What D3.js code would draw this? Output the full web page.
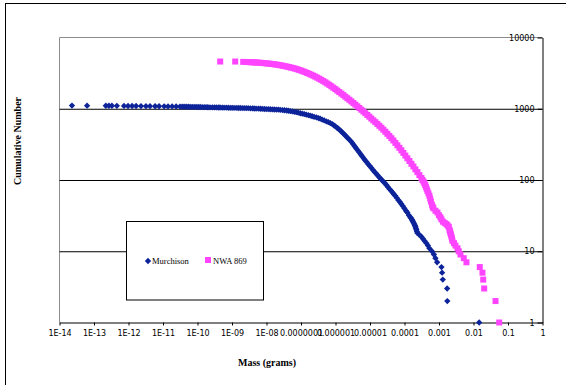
<!DOCTYPE html>
<html>
<head>
<meta charset="utf-8">
<script src="https://cdn.jsdelivr.net/npm/d3@7"></script>
<style>
  body { margin: 0; background: #fff; }
  svg { display: block; }
</style>
</head>
<body>
<div id="chart"></div>
<script>
// Murchison: [mass (g), cumulative number]
const murchisonPoints = [
  [2.3e-14, 1107], [6.3e-14, 1105], [2.2e-13, 1103], [2.7e-13, 1102], [3.3e-13, 1101],
  [4.6e-13, 1098], [7.4e-13, 1095], [9.7e-13, 1094], [1.27e-12, 1093], [1.66e-12, 1092],
  [2.3e-12, 1089], [3.2e-12, 1088], [4.2e-12, 1086], [5.9e-12, 1085], [7.7e-12, 1083],
  [1.08e-11, 1081], [1.4e-11, 1079], [1.84e-11, 1077], [2.4e-11, 1075],
  [3.1e-11, 1072], [3.6e-11, 1070], [4.1e-11, 1069], [4.7e-11, 1067], [5.4e-11, 1066],
  [6.1e-11, 1064], [7.0e-11, 1063], [8.0e-11, 1061], [9.1e-11, 1060], [1.04e-10, 1058],
  [1.19e-10, 1057], [1.36e-10, 1055], [1.56e-10, 1053], [1.77e-10, 1051], [2.0e-10, 1050],
  [2.3e-10, 1048], [2.7e-10, 1046], [3.1e-10, 1044], [3.5e-10, 1043], [4.0e-10, 1041],
  [4.5e-10, 1040], [5.2e-10, 1038], [5.9e-10, 1037], [6.8e-10, 1035], [7.8e-10, 1033],
  [8.9e-10, 1031], [1.01e-9, 1030], [1.15e-9, 1028], [1.32e-9, 1027], [1.51e-9, 1025],
  [1.73e-9, 1024], [1.98e-9, 1022], [2.26e-9, 1021], [2.58e-9, 1019], [2.95e-9, 1018],
  [3.4e-9, 1015], [3.9e-9, 1012], [4.4e-9, 1008], [5.0e-9, 1005], [5.8e-9, 1002],
  [6.6e-9, 999], [7.5e-9, 996], [8.6e-9, 993], [9.8e-9, 990], [1.12e-8, 987],
  [1.28e-8, 984], [1.47e-8, 980], [1.68e-8, 977], [1.92e-8, 974], [2.2e-8, 970],
  [2.5e-8, 965], [2.9e-8, 959], [3.3e-8, 953], [3.8e-8, 946], [4.3e-8, 938],
  [4.9e-8, 928], [5.6e-8, 917], [6.4e-8, 906], [7.3e-8, 895], [8.3e-8, 880],
  [9.5e-8, 865], [1.09e-7, 853], [1.24e-7, 841], [1.42e-7, 827], [1.63e-7, 813],
  [1.85e-7, 799], [2.1e-7, 785], [2.4e-7, 770], [2.8e-7, 755], [3.2e-7, 740],
  [3.6e-7, 725], [4.1e-7, 705], [4.7e-7, 685], [5.4e-7, 666], [6.2e-7, 648],
  [7.1e-7, 628], [8.1e-7, 608], [9.0e-7, 586], [9.9e-7, 565], [1.10e-6, 544],
  [1.21e-6, 524], [1.34e-6, 501], [1.48e-6, 479], [1.63e-6, 457], [1.80e-6, 437],
  [1.99e-6, 415], [2.2e-6, 394], [2.44e-6, 374], [2.7e-6, 356], [3.0e-6, 335],
  [3.3e-6, 315], [3.63e-6, 295], [4.0e-6, 277], [4.43e-6, 260], [4.9e-6, 244],
  [5.4e-6, 228], [6.0e-6, 214], [6.6e-6, 200], [7.3e-6, 188], [8.1e-6, 177],
  [8.95e-6, 166], [9.9e-6, 157], [1.09e-5, 148], [1.21e-5, 139], [1.34e-5, 131],
  [1.48e-5, 124], [1.63e-5, 118], [1.8e-5, 111], [2.0e-5, 105], [2.2e-5, 100],
  [2.44e-5, 95], [2.7e-5, 90], [3.0e-5, 85], [3.3e-5, 80], [3.65e-5, 75],
  [4.05e-5, 71], [4.5e-5, 67], [4.93e-5, 63], [5.4e-5, 60], [6.0e-5, 56],
  [6.7e-5, 52], [7.4e-5, 49], [8.1e-5, 46], [8.95e-5, 43], [9.9e-5, 40],
  [1.1e-4, 37], [1.21e-4, 35], [1.34e-4, 32], [1.48e-4, 30], [1.56e-4, 29],
  [1.64e-4, 28], [1.70e-4, 27], [1.75e-4, 26], [1.85e-4, 25], [1.94e-4, 24],
  [2.0e-4, 23], [2.07e-4, 22], [2.14e-4, 21], [2.21e-4, 20], [2.29e-4, 19],
  [2.37e-4, 18], [2.70e-4, 17], [3.09e-4, 16], [3.42e-4, 15], [3.78e-4, 14],
  [4.32e-4, 13], [4.77e-4, 12], [5.28e-4, 11], [6.24e-4, 10], [7.13e-4, 9],
  [7.89e-4, 8], [8.83e-4, 7], [1.18e-3, 6], [1.23e-3, 5], [1.29e-3, 4],
  [1.72e-3, 3], [1.74e-3, 2], [0.0146, 1]
];

// NWA 869: [mass (g), cumulative number]
const nwaPoints = [
  [4.55e-10, 4600], [1.24e-9, 4597], [2.11e-9, 4550], [2.6e-9, 4530], [3.15e-9, 4510],
  [3.6e-9, 4495], [4.12e-9, 4480], [4.7e-9, 4467], [5.38e-9, 4454], [6.15e-9, 4430],
  [7.03e-9, 4407], [8.0e-9, 4380], [9.18e-9, 4353], [1.05e-8, 4325], [1.20e-8, 4297],
  [1.37e-8, 4262], [1.57e-8, 4227], [1.79e-8, 4188], [2.05e-8, 4149], [2.34e-8, 4102],
  [2.68e-8, 4055], [3.06e-8, 4004], [3.50e-8, 3953], [4.0e-8, 3895], [4.57e-8, 3838],
  [5.22e-8, 3776], [5.97e-8, 3715], [6.82e-8, 3649], [7.80e-8, 3584], [8.9e-8, 3505],
  [1.02e-7, 3427], [1.16e-7, 3344], [1.33e-7, 3264], [1.52e-7, 3176], [1.74e-7, 3090],
  [1.99e-7, 3001], [2.27e-7, 2915], [2.59e-7, 2821], [2.96e-7, 2730], [3.38e-7, 2635],
  [3.87e-7, 2543], [4.43e-7, 2446], [5.07e-7, 2353], [5.79e-7, 2256], [6.62e-7, 2163],
  [7.57e-7, 2068], [8.65e-7, 1977], [9.9e-7, 1886], [1.13e-6, 1799], [1.29e-6, 1714],
  [1.48e-6, 1633], [1.69e-6, 1553], [1.93e-6, 1476], [2.21e-6, 1404], [2.52e-6, 1336],
  [2.88e-6, 1269], [3.29e-6, 1205], [3.76e-6, 1142], [4.30e-6, 1082], [4.91e-6, 1024],
  [5.61e-6, 970], [6.41e-6, 916], [7.33e-6, 866], [8.38e-6, 818], [9.57e-6, 773],
  [1.09e-5, 729], [1.25e-5, 688], [1.43e-5, 649], [1.64e-5, 612], [1.87e-5, 576],
  [2.14e-5, 542], [2.44e-5, 508], [2.79e-5, 476], [3.19e-5, 444], [3.65e-5, 415],
  [4.17e-5, 386], [4.76e-5, 359], [5.44e-5, 332], [6.22e-5, 307], [7.11e-5, 283],
  [8.13e-5, 261], [9.28e-5, 240], [1.06e-4, 220], [1.21e-4, 202], [1.39e-4, 185],
  [1.59e-4, 169], [1.81e-4, 155], [2.07e-4, 141], [2.37e-4, 129], [2.7e-4, 117],
  [3.09e-4, 107], [3.30e-4, 100], [3.55e-4, 95], [3.78e-4, 90], [3.98e-4, 85],
  [4.18e-4, 80], [4.4e-4, 75], [4.62e-4, 70], [4.94e-4, 65], [5.28e-4, 60],
  [5.55e-4, 55], [5.83e-4, 50], [6.24e-4, 45], [6.55e-4, 42], [6.90e-4, 40],
  [7.9e-4, 37], [9.02e-4, 35], [1.0e-3, 32], [1.10e-3, 30], [1.18e-3, 28],
  [1.30e-3, 26], [1.46e-3, 25], [1.64e-3, 24], [1.78e-3, 23], [1.92e-3, 22],
  [2.01e-3, 20], [2.08e-3, 19], [2.15e-3, 18], [2.22e-3, 17], [2.30e-3, 16],
  [2.38e-3, 15], [2.45e-3, 14], [2.72e-3, 13], [3.00e-3, 12], [3.43e-3, 11],
  [3.74e-3, 10], [4.19e-3, 9], [5.22e-3, 8], [6.25e-3, 7], [0.0152, 6],
  [0.0182, 5], [0.0191, 4], [0.0204, 3], [0.0435, 2], [0.0556, 1]
];

const seriesNames = ["Murchison", "NWA 869"];

const xTickValues = [1e-14, 1e-13, 1e-12, 1e-11, 1e-10, 1e-9, 1e-8, 1e-7, 1e-6, 1e-5, 1e-4, 1e-3, 1e-2, 1e-1, 1];
const xTickLabels = ["1E-14", "1E-13", "1E-12", "1E-11", "1E-10", "1E-09", "1E-08", "0.0000001",
  "0.000001", "0.00001", "0.0001", "0.001", "0.01", "0.1", "1"];
const yTickValues = [1, 10, 100, 1000, 10000];
const yTickLabels = ["1", "10", "100", "1000", "10000"];
const gridValues = [10, 100, 1000];

const width = 566, height = 385;
const plot = { left: 59.5, right: 542.5, top: 37.5, bottom: 322.5 };
const blue = "#0c239a", pink = "#ff44ff";

const svg = d3.select("#chart").append("svg")
  .attr("width", width)
  .attr("height", height);

// chart border (runs off the right and bottom of the picture)
svg.append("rect")
  .attr("x", 5.5).attr("y", 3.5)
  .attr("width", 620).attr("height", 420)
  .attr("fill", "none").attr("stroke", "#000").attr("stroke-width", 1);

const x = d3.scaleLog().domain([1e-14, 1]).range([plot.left, plot.right]);
const y = d3.scaleLog().domain([1, 10000]).range([plot.bottom, plot.top]);

// plot frame (left + top)
svg.append("path")
  .attr("d", `M${plot.left},${plot.bottom}V${plot.top}H${plot.right}`)
  .attr("fill", "none").attr("stroke", "#8c8c8c");

// gridlines
svg.append("g")
  .attr("transform", `translate(${plot.left},0)`)
  .call(d3.axisLeft(y).tickValues(gridValues).tickSize(-(plot.right - plot.left)).tickFormat(""))
  .call(g => g.select(".domain").remove())
  .selectAll("line").attr("stroke", "#000");

// x axis
const xAxis = svg.append("g")
  .attr("transform", `translate(0,${plot.bottom})`)
  .call(d3.axisBottom(x).tickValues(xTickValues).tickFormat((d, i) => xTickLabels[i])
    .tickSizeInner(3).tickSizeOuter(0).tickPadding(5));
xAxis.selectAll("text")
  .attr("font-family", "DejaVu Sans")
  .attr("font-size", "8px")
  .attr("fill", "#000");

// y axis on the right, labels inside
const yAxis = svg.append("g")
  .attr("transform", `translate(${plot.right},0)`)
  .call(d3.axisLeft(y).tickValues(yTickValues).tickFormat((d, i) => yTickLabels[i])
    .tickSizeInner(5).tickSizeOuter(0).tickPadding(3));
yAxis.selectAll("text")
  .attr("font-family", "DejaVu Sans")
  .attr("font-size", "8px")
  .attr("fill", "#000");

// points
const diamond = d3.symbol(d3.symbolSquare, 20);
const square = d3.symbol(d3.symbolSquare, 36);

svg.append("g").selectAll("path")
  .data(nwaPoints)
  .enter()
  .append("path")
  .attr("d", square)
  .attr("transform", d => `translate(${x(d[0])},${y(d[1])})`)
  .attr("fill", pink);

svg.append("g").selectAll("path")
  .data(murchisonPoints)
  .enter()
  .append("path")
  .attr("d", diamond)
  .attr("transform", d => `translate(${x(d[0])},${y(d[1])}) rotate(45)`)
  .attr("fill", blue);

// axis titles
svg.append("text")
  .attr("transform", "translate(21,141) rotate(-90)")
  .attr("text-anchor", "middle")
  .attr("font-family", "Liberation Serif")
  .attr("font-weight", "bold")
  .attr("font-size", "10px")
  .text("Cumulative Number");

svg.append("text")
  .attr("x", 267).attr("y", 366)
  .attr("text-anchor", "middle")
  .attr("font-family", "Liberation Serif")
  .attr("font-weight", "bold")
  .attr("font-size", "10px")
  .text("Mass (grams)");

// legend
const legend = svg.append("g");
legend.append("rect")
  .attr("x", 126.5).attr("y", 221.5)
  .attr("width", 137).attr("height", 78.5)
  .attr("fill", "#fff").attr("stroke", "#000");
legend.append("path")
  .attr("d", diamond)
  .attr("transform", "translate(148,261) rotate(45)")
  .attr("fill", blue);
legend.append("text")
  .attr("x", 152).attr("y", 264)
  .attr("font-family", "Liberation Serif")
  .attr("font-size", "8.5px")
  .text(seriesNames[0]);
legend.append("path")
  .attr("d", square)
  .attr("transform", "translate(208,260)")
  .attr("fill", pink);
legend.append("text")
  .attr("x", 213).attr("y", 264)
  .attr("font-family", "Liberation Serif")
  .attr("font-size", "8.5px")
  .text(seriesNames[1]);
</script>
</body>
</html>
